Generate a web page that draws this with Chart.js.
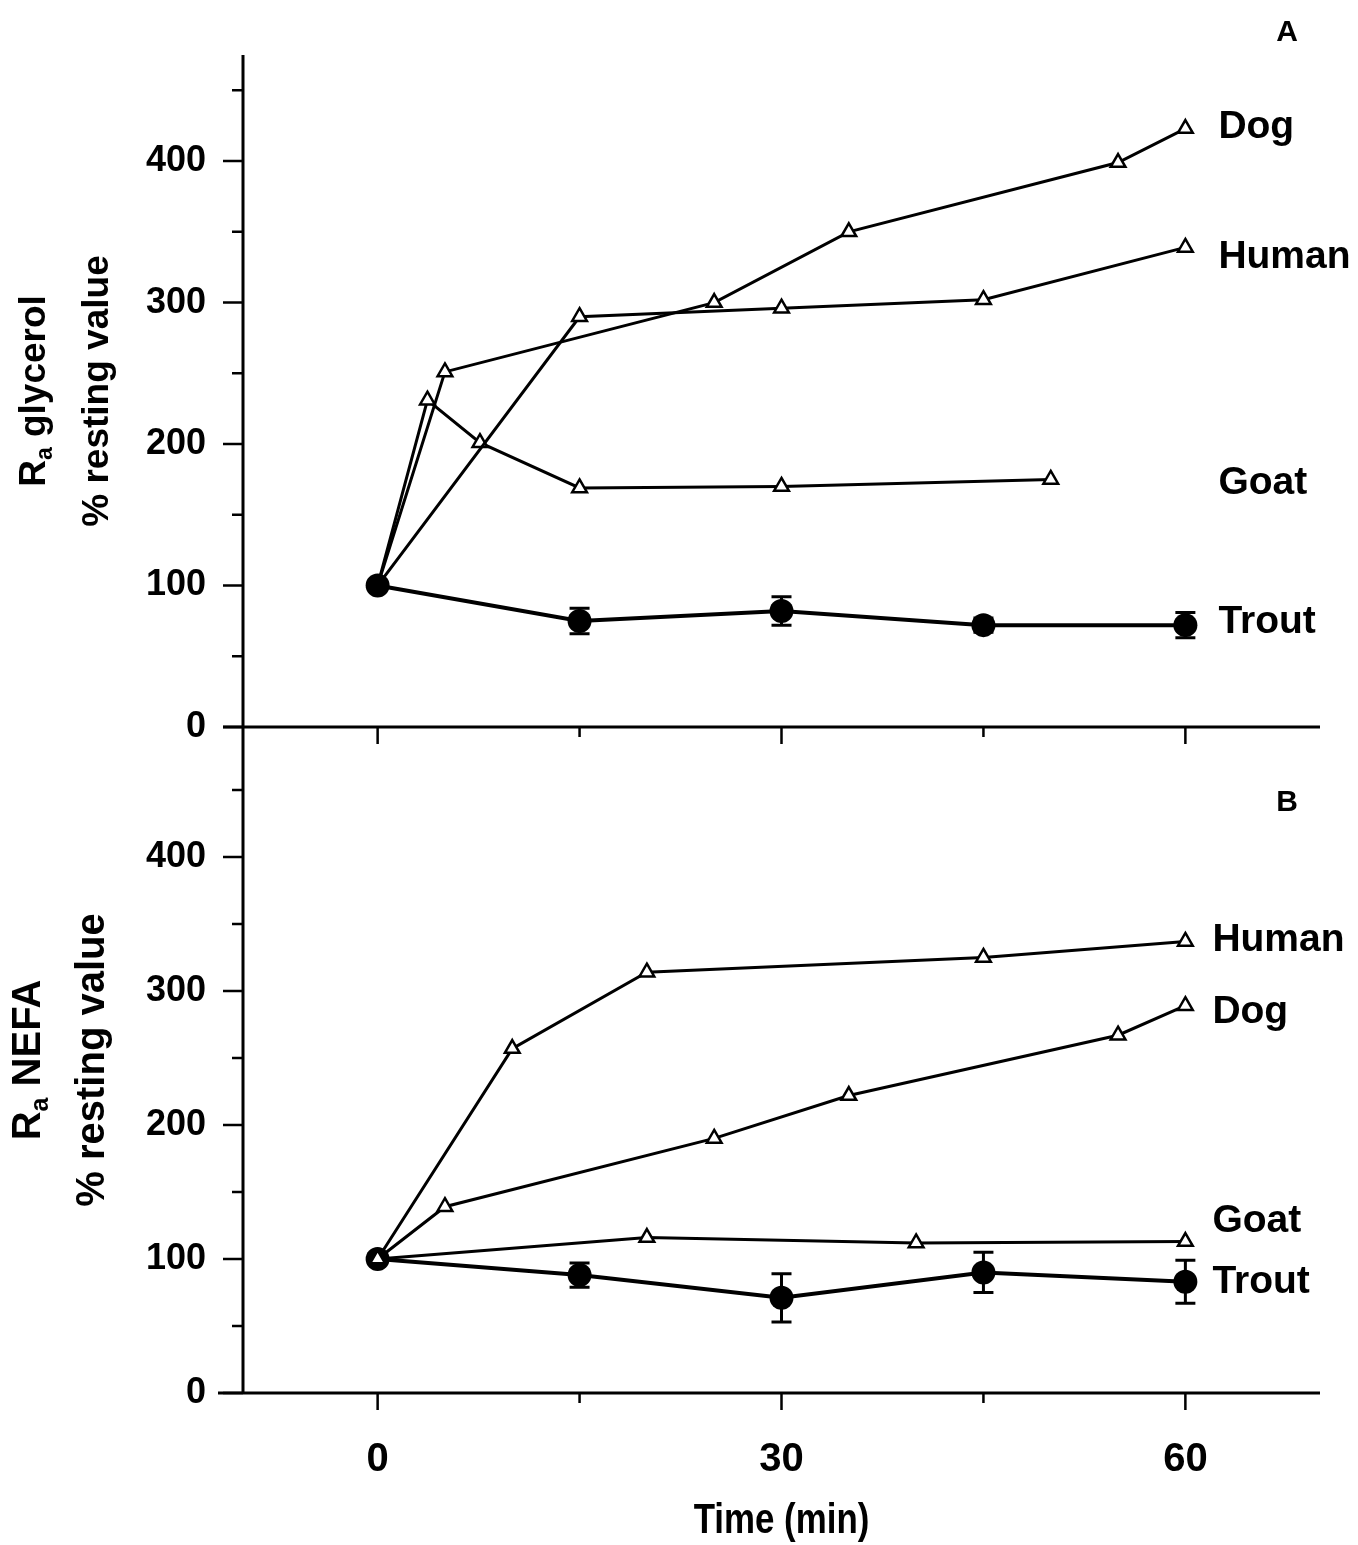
<!DOCTYPE html>
<html>
<head>
<meta charset="utf-8">
<script src="https://cdn.jsdelivr.net/npm/chart.js@4.4.0/dist/chart.umd.min.js"></script>
<style>
  body { margin: 0; background: #fff; }
  #wrap { position: relative; width: 1358px; height: 1545px; background: #fff; }
  canvas { position: absolute; left: 0; }
  #chartA { top: 0; }
  #chartB { top: 700px; }
</style>
</head>
<body>
<div id="wrap">
  <canvas id="chartA" width="1358" height="770"></canvas>
  <canvas id="chartB" width="1358" height="845"></canvas>
</div>
<script>
// shared axis
var xTicks = [0, 15, 30, 45, 60];
var xLabels = [0, 30, 60];
var yTicks = [0, 50, 100, 150, 200, 250, 300, 350, 400, 450];
var yLabels = [0, 100, 200, 300, 400];

// panel A: Ra glycerol
var timeDogA = [0, 5, 25, 35, 55, 60];
var dogA = [100, 251, 300, 350, 399, 423];
var timeHumanA = [0, 15, 30, 45, 60];
var humanA = [100, 290, 296, 302, 339];
var timeGoatA = [0, 3.7, 7.6, 15, 30, 50];
var goatA = [100, 231, 201, 169, 170, 175];
var timeTrout = [0, 15, 30, 45, 60];
var troutA = [100, 75, 82, 72, 72];
var troutErrA = [0, 9, 10, 5, 9];
var namesA = ['Dog', 'Human', 'Goat', 'Trout'];
var nameYA = [424, 332, 172, 74];

// panel B: Ra NEFA
var timeHumanB = [0, 10, 20, 45, 60];
var humanB = [100, 257, 314, 325, 337];
var timeDogB = [0, 5, 25, 35, 55, 60];
var dogB = [100, 139, 190, 222, 267, 289];
var timeGoatB = [0, 20, 40, 60];
var goatB = [100, 116, 112, 113];
var troutB = [100, 88, 71, 90, 83];
var troutErrB = [0, 9, 18, 15, 16];
var namesB = ['Human', 'Dog', 'Goat', 'Trout'];
var nameYB = [338, 284, 128, 83];

var SANS = '"Liberation Sans", Arial, sans-serif';
Chart.defaults.font.family = SANS;
Chart.defaults.color = '#000';

function pts(xs, ys) {
  return xs.map(function (x, i) { return { x: x, y: ys[i] }; });
}

function triSeries(label, xs, ys) {
  return {
    label: label,
    data: pts(xs, ys),
    borderColor: '#000',
    borderWidth: 3,
    pointStyle: 'triangle',
    pointRadius: 8.5,
    pointBorderWidth: 2.5,
    pointBackgroundColor: '#fff',
    pointBorderColor: '#000'
  };
}

function troutSeries(ys, errs) {
  return {
    label: 'Trout',
    data: pts(timeTrout, ys),
    errors: errs,
    borderColor: '#000',
    borderWidth: 4,
    pointStyle: 'circle',
    pointRadius: 12,
    pointBorderWidth: 0,
    pointBackgroundColor: '#000'
  };
}

// axis lines, tick marks, error bars, labels
var framePlugin = {
  id: 'frame',
  afterDatasetsDraw: function (chart) {
    var ctx = chart.ctx, xs = chart.scales.x, ys = chart.scales.y;
    ctx.save();
    ctx.strokeStyle = '#000';
    ctx.lineWidth = 3;
    chart.data.datasets.forEach(function (ds) {
      if (!ds.errors) return;
      ds.data.forEach(function (p, i) {
        var e = ds.errors[i];
        if (!e) return;
        var px = xs.getPixelForValue(p.x);
        var top = ys.getPixelForValue(p.y + e);
        var bot = ys.getPixelForValue(p.y - e);
        ctx.beginPath();
        ctx.moveTo(px, top); ctx.lineTo(px, bot);
        ctx.moveTo(px - 10, top); ctx.lineTo(px + 10, top);
        ctx.moveTo(px - 10, bot); ctx.lineTo(px + 10, bot);
        ctx.stroke();
      });
    });
    ctx.restore();
  },
  afterDraw: function (chart, args, opts) {
    var ctx = chart.ctx, a = chart.chartArea;
    var xs = chart.scales.x, ys = chart.scales.y;
    ctx.save();
    ctx.strokeStyle = '#000';
    ctx.fillStyle = '#000';
    ctx.lineCap = 'butt';

    // axes
    ctx.lineWidth = 3;
    ctx.beginPath();
    ctx.moveTo(a.left, a.top); ctx.lineTo(a.left, a.bottom + 1);
    ctx.moveTo(a.left - opts.extendLeft, a.bottom); ctx.lineTo(a.right, a.bottom);
    ctx.stroke();

    ctx.lineWidth = 2.5;
    ctx.beginPath();
    yTicks.forEach(function (v) {
      var py = ys.getPixelForValue(v);
      var len = yLabels.indexOf(v) >= 0 ? 20 : 11;
      ctx.moveTo(a.left - len, py); ctx.lineTo(a.left, py);
    });
    xTicks.forEach(function (v) {
      var px = xs.getPixelForValue(v);
      var len = xLabels.indexOf(v) >= 0 ? 17 : 10;
      ctx.moveTo(px, a.bottom); ctx.lineTo(px, a.bottom + len);
    });
    ctx.stroke();

    // species names at the right end
    ctx.font = opts.nameFont;
    ctx.textAlign = 'left';
    ctx.textBaseline = 'middle';
    var nx = xs.getPixelForValue(60) + opts.nameOffset;
    opts.names.forEach(function (n, i) {
      ctx.fillText(n, nx, ys.getPixelForValue(opts.nameY[i]));
    });

    // panel letter
    ctx.font = 'bold 30px ' + SANS;
    ctx.textAlign = 'center';
    ctx.fillText(opts.letter, a.right - 33, a.top + opts.letterDy);

    // rotated y title with subscript
    var cy = (a.top + a.bottom) / 2;
    var size = opts.titleSize;
    var big = 'bold ' + size + 'px ' + SANS;
    var small = 'bold ' + Math.round(size * 0.62) + 'px ' + SANS;
    ctx.font = big;
    var wR = ctx.measureText('R').width;
    var wRest = ctx.measureText(opts.rest).width;
    ctx.font = small;
    var wSub = ctx.measureText('a').width;
    var total = wR + wSub + wRest;

    ctx.save();
    ctx.translate(opts.title1X, cy);
    ctx.rotate(-Math.PI / 2);
    ctx.textAlign = 'left';
    ctx.textBaseline = 'middle';
    var sx = -total / 2;
    ctx.font = big;
    ctx.fillText('R', sx, 0);
    ctx.font = small;
    ctx.fillText('a', sx + wR, size * 0.3);
    ctx.font = big;
    ctx.fillText(opts.rest, sx + wR + wSub, 0);
    ctx.restore();

    ctx.save();
    ctx.translate(opts.title2X, cy);
    ctx.rotate(-Math.PI / 2);
    ctx.textAlign = 'center';
    ctx.textBaseline = 'middle';
    ctx.font = big;
    ctx.fillText('% resting value', 0, 0);
    ctx.restore();

    // condensed x title (bottom panel only)
    if (opts.xTitle) {
      ctx.save();
      ctx.translate(xs.getPixelForValue(30), a.bottom + 128);
      ctx.scale(0.83, 1);
      ctx.font = 'bold 42px ' + SANS;
      ctx.textAlign = 'center';
      ctx.textBaseline = 'middle';
      ctx.fillText(opts.xTitle, 0, 0);
      ctx.restore();
    }

    ctx.restore();
  }
};

function yScale(max) {
  return {
    type: 'linear',
    min: 0,
    max: max,
    afterBuildTicks: function (s) { s.ticks = yTicks.map(function (v) { return { value: v }; }); },
    afterFit: function (s) { s.width = 243; },
    grid: { display: false, drawTicks: true, tickLength: 37 },
    border: { display: false },
    ticks: {
      padding: 0,
      font: { size: 36, weight: 'bold', family: SANS, lineHeight: 1 },
      color: '#000',
      callback: function (v) { return yLabels.indexOf(v) >= 0 ? String(v) : ''; }
    }
  };
}

var chartA = new Chart(document.getElementById('chartA').getContext('2d'), {
  type: 'line',
  data: {
    datasets: [
      troutSeries(troutA, troutErrA),
      triSeries('Dog', timeDogA, dogA),
      triSeries('Human', timeHumanA, humanA),
      triSeries('Goat', timeGoatA, goatA)
    ]
  },
  options: {
    responsive: false,
    animation: false,
    events: [],
    layout: { padding: { left: 0, right: 38, top: 55, bottom: 43 } },
    scales: {
      x: { type: 'linear', min: -10, max: 70, display: false },
      y: yScale(475)
    },
    plugins: {
      legend: { display: false },
      tooltip: { enabled: false },
      frame: {
        extendLeft: 20,
        names: namesA, nameY: nameYA, nameOffset: 33,
        nameFont: 'bold 39px ' + SANS,
        letter: 'A', letterDy: -22,
        titleSize: 37, rest: ' glycerol', title1X: 35, title2X: 98
      }
    }
  },
  plugins: [framePlugin]
});

var chartB = new Chart(document.getElementById('chartB').getContext('2d'), {
  type: 'line',
  data: {
    datasets: [
      triSeries('Human', timeHumanB, humanB),
      triSeries('Dog', timeDogB, dogB),
      triSeries('Goat', timeGoatB, goatB),
      troutSeries(troutB, troutErrB)
    ]
  },
  options: {
    responsive: false,
    animation: false,
    events: [],
    layout: { padding: { left: 0, right: 38, top: 27, bottom: 0 } },
    scales: {
      x: {
        type: 'linear',
        min: -10,
        max: 70,
        afterBuildTicks: function (s) { s.ticks = xTicks.map(function (v) { return { value: v }; }); },
        afterFit: function (s) { s.height = 152; },
        grid: { display: false, drawTicks: false },
        border: { display: false },
        ticks: {
          padding: 43,
          maxRotation: 0,
          autoSkip: false,
          font: { size: 40, weight: 'bold', family: SANS },
          color: '#000',
          callback: function (v) { return xLabels.indexOf(v) >= 0 ? String(v) : ''; }
        }
      },
      y: yScale(497)
    },
    plugins: {
      legend: { display: false },
      tooltip: { enabled: false },
      frame: {
        extendLeft: 25,
        names: namesB, nameY: nameYB, nameOffset: 27,
        nameFont: 'bold 39px ' + SANS,
        letter: 'B', letterDy: 76,
        titleSize: 40, rest: ' NEFA', title1X: 29, title2X: 93,
        xTitle: 'Time (min)'
      }
    }
  },
  plugins: [framePlugin]
});
</script>
</body>
</html>
